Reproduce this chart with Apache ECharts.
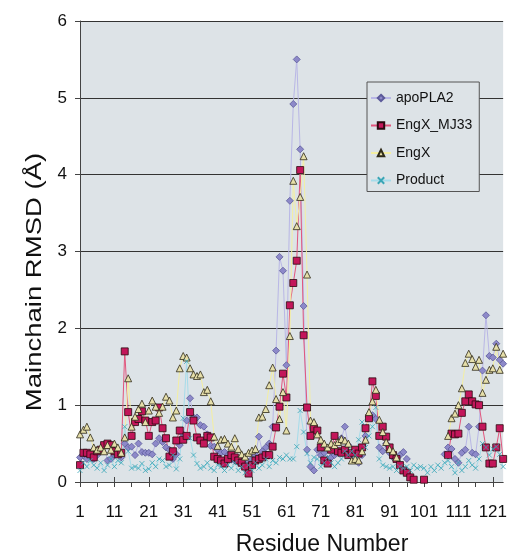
<!DOCTYPE html>
<html>
<head>
<meta charset="utf-8">
<script src="https://cdn.jsdelivr.net/npm/echarts@6/dist/echarts.min.js"></script>
<style>
  html, body { margin: 0; padding: 0; background: #fff; }
  #chart { width: 510px; height: 554px; }
</style>
</head>
<body>
<div id="chart"></div>
<script>
// residue numbers 1..124
var residues = []
for (var i = 1; i <= 124; i++) residues.push(String(i))

// '-' = no value plotted for that residue
var apoPLA2 = [
  0.32, 0.35, 0.30, 0.38, 0.30, 0.35, 0.42, 0.48, 0.28, 0.30, 0.35, 0.40, 0.32,
  0.50, 0.45, 0.46, 0.35, 0.50, 0.39, 0.38,
  0.38, 0.36, 0.50, 0.57, 0.52, 0.45, 0.42, 0.30, 0.36, 0.48, 0.62, 0.80, 1.09, 0.84, 0.84, 0.74, 0.72, 0.62, 0.47, 0.46, 0.42,
  0.38, 0.39, 0.35, 0.29, 0.28, 0.26, 0.30, 0.22, 0.26, 0.30, 0.35, 0.59, 0.40, 0.45, 0.50, 0.72, 1.71, 2.93, 2.75, 1.52, 3.66,
  4.92, 5.50, 4.33, 2.29, 0.42, 0.20, 0.15, 0.42, 0.35, 0.38, 0.30, 0.32, 0.35, 0.40, 0.57, 0.72, 0.48, 0.35,
  0.38, 0.25, 0.35, 0.60, 0.85, 0.87, 0.82, 0.45, 0.40, 0.50, 0.38, 0.32, 0.30, 0.35, 0.39, 0.30, '-', '-', '-', '-',
  '-', '-', '-', '-', '-', '-', 0.36, 0.45, 0.43, 0.30, 0.25, 0.38, 0.42, 0.72, 0.38, 0.36, 0.72, 1.45, 2.17, 1.64, 1.62, 1.80, 1.59, 1.54
]
var engxMJ33 = [
  0.22, 0.38, 0.38, 0.36, 0.32, 0.40, 0.42, 0.48, 0.50, 0.48, 0.40, 0.36, 0.38,
  1.70, 0.91, 0.60, 0.78, 0.82, 0.92, 0.80,
  0.60, 0.78, 0.80, 0.97, 0.70, 0.57, 0.33, 0.40, 0.54, 0.67, 0.55, 0.60, 0.91, 0.80, 0.58, 0.54, 0.50, 0.60, 0.58, 0.33, 0.30,
  0.28, 0.24, 0.30, 0.35, 0.32, 0.28, 0.25, 0.20, 0.11, 0.22, 0.28, 0.30, 0.32, 0.35, 0.35, 0.46, 0.71, 0.98, 1.41, 1.10, 2.30,
  2.59, 2.88, 4.06, 1.91, 0.97, 0.60, 0.70, 0.67, 0.45, 0.28, 0.24, 0.42, 0.60, 0.40, 0.38, 0.42, 0.35, 0.38,
  0.42, 0.37, 0.45, 0.70, 0.83, 1.31, 1.12, 0.60, 0.72, 0.59, 0.45, 0.35, 0.30, 0.22, 0.15, 0.12, 0.06, 0.03, '-', '-',
  0.03, '-', '-', '-', '-', '-', '-', 0.35, 0.63, 0.62, 0.63, 0.90, 1.05, 1.14, 1.05, 1.01, 1.00, 0.72, 0.45, 0.24, 0.24, 0.45, 0.70, 0.30
]
var engX = [
  0.62, 0.68, 0.72, 0.58, 0.45, 0.42, 0.45, 0.40, 0.48, 0.42, 0.50, 0.45, 0.38,
  0.58, 1.35, 0.72, 0.85, 0.95, 1.02, 0.78,
  0.93, 1.06, 0.98, 0.90, 0.98, 1.11, 1.06, 0.84, 0.93, 1.48, 1.64, 1.62, 1.48, 1.40, 1.38, 1.40, 1.17, 1.20, 1.05, 0.59, 0.47,
  0.55, 0.56, 0.50, 0.46, 0.57, 0.43, 0.36, 0.33, 0.38, 0.41, 0.43, 0.84, 0.85, 0.95, 1.26, 1.49, 1.08, 0.82, 1.17, 0.67, 1.90,
  3.92, 3.33, 3.71, 4.24, 2.70, 0.80, 0.78, 0.62, 0.55, 0.50, 0.45, 0.50, 0.48, 0.52, 0.56, 0.54, 0.50, 0.28,
  0.30, 0.28, 0.40, 0.55, 0.91, 1.05, 1.20, 0.81, 0.65, 0.52, 0.43, 0.40, 0.32, '-', '-', '-', '-', '-', '-', '-',
  '-', '-', '-', '-', '-', '-', '-', 0.60, 0.83, 0.89, 1.00, 1.22, 1.55, 1.67, 1.60, 1.50, 1.59, 1.16, 1.33, 1.46, 1.48, 1.76, 1.46, 1.67
]
var product = [
  0.15, 0.25, 0.20, 0.28, 0.22, 0.18, 0.25, 0.15, 0.22, 0.30, 0.20, 0.28, 0.25,
  0.72, 0.40, 0.18, 0.20, 0.18, 0.24, 0.15,
  0.17, 0.25, 0.20, 0.30, 0.28, 0.20, 0.22, 0.35, 0.17, 0.30, 0.83, 1.57, 0.57, 0.35, 0.24, 0.18, 0.20, 0.25, 0.18, 0.15, 0.22,
  0.20, 0.15, 0.22, 0.18, 0.25, 0.15, 0.20, 0.12, 0.22, 0.15, 0.25, 0.18, 0.22, 0.30, 0.20, 0.28, 0.25, 0.32, 0.30, 0.35, 0.30,
  0.30, 0.46, 0.93, 0.65, 0.37, 0.25, 0.32, 0.30, 0.20, 0.25, 0.32, 0.25, 0.20, 0.25, 0.30, 0.40, 0.35, 0.40,
  0.35, 0.55, 0.78, 0.45, 0.60, 0.72, 0.97, 0.30, 0.22, 0.20, 0.18, 0.20, 0.15, 0.20, 0.18, 0.20, 0.15, 0.22, 0.18, 0.20,
  0.18, 0.12, 0.20, 0.15, 0.22, 0.18, 0.25, 0.28, 0.20, 0.12, 0.25, 0.15, 0.20, 0.28, 0.22, 0.18, 0.30, 0.50, 0.45, 0.35, 0.43, 0.46, 0.36, 0.20
]

var FONT = 'Liberation Sans, Arial, sans-serif'
var PLOT_BG = '#dde3e7'

var chart = echarts.init(document.getElementById('chart'), null, {renderer: 'canvas'})

function lineSeries(name, data, symbol, size, fill, border, lineColor) {
  return {
    name: name,
    type: 'line',
    data: data,
    symbol: symbol,
    symbolSize: size,
    showAllSymbol: true,
    animation: false,
    lineStyle: {color: lineColor, width: 1},
    itemStyle: {color: fill, borderColor: border, borderWidth: 0.8}
  }
}

chart.setOption({
  backgroundColor: '#fff',
  textStyle: {fontFamily: FONT},
  grid: {
    left: 80, right: 4, top: 21, bottom: 72,
    show: true, backgroundColor: PLOT_BG, borderWidth: 0
  },
  legend: {
    orient: 'vertical',
    left: 367, top: 82,
    padding: [9, 7, 4, 3],
    itemWidth: 20, itemHeight: 8, itemGap: 13.5,
    backgroundColor: PLOT_BG,
    borderColor: '#555', borderWidth: 1,
    textStyle: {fontSize: 14, color: '#111', fontFamily: FONT},
    data: ['apoPLA2', 'EngX_MJ33', 'EngX', 'Product']
  },
  xAxis: [{
    type: 'category',
    data: residues,
    boundaryGap: false,
    axisLine: {lineStyle: {color: '#444', width: 1}},
    axisTick: {
      interval: function (i) { return i % 5 === 0 },
      length: 5,
      lineStyle: {color: '#444'}
    },
    axisLabel: {interval: 9, fontSize: 17, color: '#111', margin: 22}
  }, {
    // major ticks poking up into the plot
    type: 'category',
    data: residues,
    boundaryGap: false,
    position: 'bottom',
    axisLine: {show: false},
    axisTick: {interval: 9, inside: true, length: 5, lineStyle: {color: '#444'}},
    axisLabel: {show: false}
  }],
  yAxis: {
    type: 'value',
    min: 0, max: 6, interval: 1,
    axisLine: {show: true, lineStyle: {color: '#444'}},
    axisTick: {show: true, length: 5, lineStyle: {color: '#444'}},
    axisLabel: {fontSize: 17, color: '#111', margin: 13},
    splitLine: {lineStyle: {color: '#333', width: 1}}
  },
  graphic: [{
    type: 'text',
    x: 35, y: 282, rotation: Math.PI / 2, scaleX: 1.25,
    style: {
      text: 'Mainchain RMSD (Å)', fontSize: 22, fontFamily: FONT, fill: '#111',
      textAlign: 'center', textVerticalAlign: 'middle'
    }
  }, {
    type: 'text',
    x: 322, y: 545,
    style: {
      text: 'Residue Number', fontSize: 23, fontFamily: FONT, fill: '#111',
      textAlign: 'center', textVerticalAlign: 'middle'
    }
  }],
  series: [
    lineSeries('apoPLA2', apoPLA2, 'diamond', 7, '#8d89c9', '#5c5a9a', '#b9b7e6'),
    lineSeries('EngX_MJ33', engxMJ33, 'rect', 7, '#c3165a', '#2a0a10', '#e2557d'),
    lineSeries('EngX', engX, 'triangle', 7, '#e6dfaa', '#2e2a18', '#f4efa2'),
    lineSeries('Product', product, 'path://M0,0L10,10M10,0L0,10', 5, 'none', '#3aa6b6', '#a6dcea')
  ]
})
</script>
</body>
</html>
